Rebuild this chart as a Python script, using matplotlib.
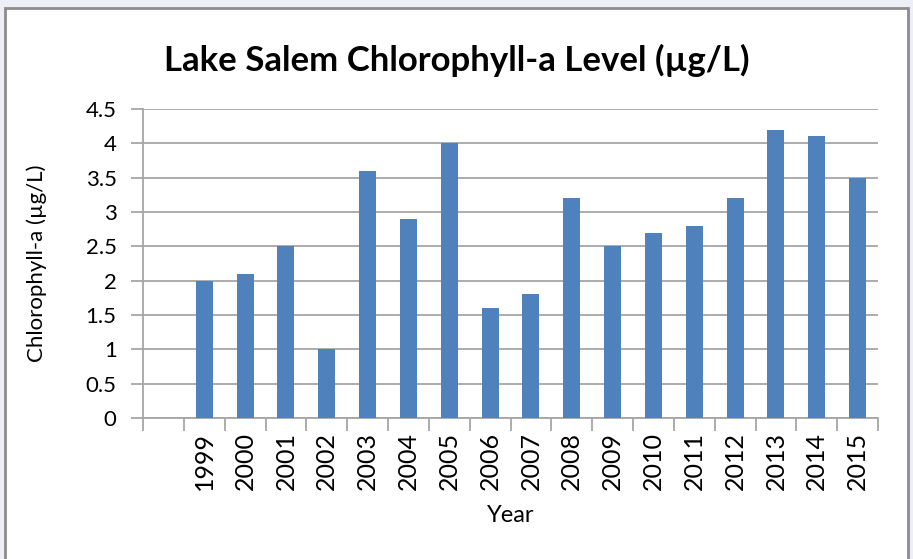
import matplotlib
matplotlib.use("Agg")
import matplotlib.pyplot as plt
from matplotlib.patches import Rectangle
import numpy as np

years = ["1999", "2000", "2001", "2002", "2003", "2004", "2005", "2006", "2007",
         "2008", "2009", "2010", "2011", "2012", "2013", "2014", "2015"]
chl = [2.0, 2.1, 2.5, 1.0, 3.6, 2.9, 4.0, 1.6, 1.8,
       3.2, 2.5, 2.7, 2.8, 3.2, 4.2, 4.1, 3.5]
yticks = [0, 0.5, 1, 1.5, 2, 2.5, 3, 3.5, 4, 4.5]
ytick_labels = ["0", "0.5", "1", "1.5", "2", "2.5", "3", "3.5", "4", "4.5"]

plt.rcParams['font.family'] = ['Lato', 'DejaVu Sans']

W, H = 913, 559
fig = plt.figure(figsize=(W / 100, H / 100), dpi=100)
fig.patch.set_facecolor("#EEEEF7")
fig.patches.append(Rectangle((5 / W, -0.1), (908 - 5) / W, (H - 8) / H + 0.1,
                             transform=fig.transFigure, facecolor="white",
                             edgecolor="#8C8C8C", linewidth=2, zorder=-5))

ax = fig.add_axes([143 / W, (H - 418) / H, (878 - 143) / W, (418 - 109) / H])
ax.set_zorder(5)
ax.set_facecolor("white")
x = np.arange(len(years)) + 1
ax.bar(x, chl, width=0.42, color="#4F81BD", zorder=3)
ax.set_xlim(-0.5, len(years) + 0.5)
ax.set_ylim(0, 4.5)
ax.set_yticks(yticks)
ax.set_yticklabels(ytick_labels, fontsize=16)
ax.yaxis.grid(True, color="#A6A6A6", linewidth=1.3, zorder=0)
ax.tick_params(axis="y", length=9, width=1.3, color="#A6A6A6", pad=10)

ax.set_xticks(x)
ax.set_xticklabels(years, rotation=90, fontsize=18)
ax.set_xticks(np.arange(len(years) + 2) - 0.5, minor=True)
ax.tick_params(axis="x", which="major", length=0, pad=10)
ax.tick_params(axis="x", which="minor", length=9, width=1.3, color="#A6A6A6")

for s in ["top", "right"]:
    ax.spines[s].set_visible(False)
for s in ["left", "bottom"]:
    ax.spines[s].set_color("#A6A6A6")
    ax.spines[s].set_linewidth(1.3)

ax.set_ylabel("Chlorophyll-a (µg/L)", fontsize=16)
ax.yaxis.set_label_coords(-(143 - 47) / (878 - 143), 0.5)
ax.set_xlabel("Year", fontsize=17)
ax.xaxis.set_label_coords(0.5, -(505 - 418) / (418 - 109))

fig.text(457 / W, 1 - 60 / H, "Lake Salem Chlorophyll-a Level (µg/L)",
         ha="center", va="center", fontsize=25, fontweight="bold")

fig.savefig("out.png", dpi=100, facecolor=fig.get_facecolor())
